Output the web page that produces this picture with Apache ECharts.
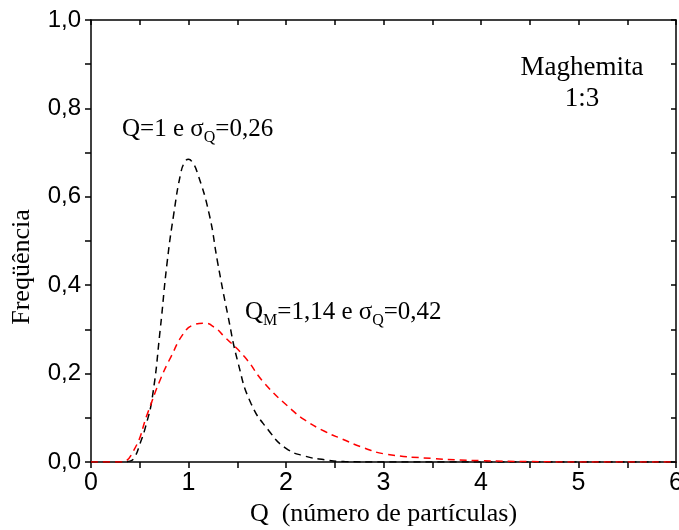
<!DOCTYPE html>
<html>
<head>
<meta charset="utf-8">
<script src="https://cdn.jsdelivr.net/npm/echarts@6/dist/echarts.min.js"></script>
<style>
  html, body {margin: 0; padding: 0; background: #fff;}
  #main {width: 679px; height: 530px;}
</style>
</head>
<body>
<div id="main"></div>
<script>
// curva preta: Q=1, sigma=0,26
var blackX = [0, 0.3, 0.4, 0.45, 0.5, 0.56, 0.63, 0.71, 0.78, 0.85, 0.92, 0.96, 1.0, 1.04, 1.09, 1.21, 1.30, 1.40, 1.51, 1.64, 1.82, 2.0, 2.2, 2.4, 2.6, 3.0, 6.0]
var blackY = [0, 0, 0.002, 0.012, 0.04, 0.08, 0.148, 0.30, 0.45, 0.563, 0.653, 0.678, 0.685, 0.678, 0.655, 0.563, 0.45, 0.336, 0.223, 0.133, 0.072, 0.031, 0.013, 0.005, 0.001, 0, 0]
// curva vermelha: QM=1,14, sigma=0,42
var redX = [0, 0.3, 0.44, 0.58, 0.71, 0.82, 0.95, 1.05, 1.16, 1.27, 1.37, 1.575, 1.78, 2.06, 2.2, 2.4, 2.575, 2.8, 3.02, 3.5, 4.0, 4.5, 5.0, 6.0]
var redY = [0, 0, 0.027, 0.11, 0.186, 0.238, 0.291, 0.31, 0.314, 0.304, 0.283, 0.238, 0.178, 0.118, 0.094, 0.069, 0.052, 0.032, 0.018, 0.008, 0.003, 0.001, 0, 0]

var xTicks = [0, 1, 2, 3, 4, 5, 6]
var yTicks = ['0,0', '0,2', '0,4', '0,6', '0,8', '1,0']

function pairs(xs, ys) {
    var out = []
    for (var i = 0; i < xs.length; i++) {
        out.push([xs[i], ys[i]])
    }
    return out
}

var serif = '"Liberation Serif", "Times New Roman", serif'
var sans = '"Liberation Sans", Arial, sans-serif'
var axisLine = {onZero: false, lineStyle: {color: '#000', width: 1.5}}
var tickStyle = {color: '#000', width: 1.5}

var myChart = echarts.init(document.getElementById('main'))

var option = {
    animation: false,
    grid: {left: 91, right: 3, top: 20, bottom: 68, containLabel: false, outerBoundsMode: 'none'},
    xAxis: [
        {
            type: 'value', min: 0, max: 6, interval: 1,
            axisLine: axisLine,
            axisTick: {show: true, inside: false, length: 6, lineStyle: tickStyle},
            minorTick: {show: true, splitNumber: 2, length: 6, lineStyle: tickStyle},
            splitLine: {show: false},
            axisLabel: {
                color: '#000', fontFamily: sans, fontSize: 25, margin: 9,
                formatter: function (v) { return xTicks.indexOf(v) >= 0 ? String(v) : '' }
            },
            name: 'Q  (número de partículas)',
            nameLocation: 'middle',
            nameGap: 39,
            nameTextStyle: {color: '#000', fontFamily: serif, fontSize: 26}
        },
        {
            type: 'value', min: 0, max: 6, interval: 1, position: 'top',
            axisLine: axisLine,
            axisTick: {show: true, inside: true, length: 5, lineStyle: tickStyle},
            minorTick: {show: true, splitNumber: 2, length: 5, lineStyle: tickStyle},
            splitLine: {show: false},
            axisLabel: {show: false}
        }
    ],
    yAxis: [
        {
            type: 'value', min: 0, max: 1, interval: 0.2,
            axisLine: axisLine,
            axisTick: {show: true, inside: false, length: 6, lineStyle: tickStyle},
            minorTick: {show: true, splitNumber: 2, length: 6, lineStyle: tickStyle},
            splitLine: {show: false},
            axisLabel: {
                color: '#000', fontFamily: sans, fontSize: 24, margin: 10,
                formatter: function (v) { return yTicks[Math.round(v * 5)] }
            },
            name: 'Freqüência',
            nameLocation: 'middle',
            nameGap: 56,
            nameRotate: 90,
            nameTextStyle: {color: '#000', fontFamily: serif, fontSize: 26, padding: [0, 52, 0, 0]}
        },
        {
            type: 'value', min: 0, max: 1, interval: 0.2, position: 'right',
            axisLine: axisLine,
            axisTick: {show: true, inside: true, length: 5, lineStyle: tickStyle},
            minorTick: {show: true, splitNumber: 2, length: 5, lineStyle: tickStyle},
            splitLine: {show: false},
            axisLabel: {show: false}
        }
    ],
    series: [
        {
            name: 'Q=1',
            type: 'line',
            data: pairs(blackX, blackY),
            smooth: 0.5,
            showSymbol: false,
            symbol: 'none',
            lineStyle: {color: '#000', width: 1.5, type: [7, 5]},
            z: 3
        },
        {
            name: 'QM=1,14',
            type: 'line',
            data: pairs(redX, redY),
            smooth: 0.5,
            showSymbol: false,
            symbol: 'none',
            lineStyle: {color: '#ff0000', width: 1.5, type: [7, 5]},
            z: 4
        }
    ],
    graphic: [
        {
            type: 'text', left: 122, top: 117,
            style: {
                text: '{t|Q=1 e σ}{s|Q}{t|=0,26}',
                rich: {
                    t: {fontFamily: serif, fontSize: 25, fill: '#000'},
                    s: {fontFamily: serif, fontSize: 16, fill: '#000', padding: [16, 0, 0, 0]}
                }
            }
        },
        {
            type: 'text', left: 245, top: 300,
            style: {
                text: '{t|Q}{s|M}{t|=1,14 e σ}{s|Q}{t|=0,42}',
                rich: {
                    t: {fontFamily: serif, fontSize: 25, fill: '#000'},
                    s: {fontFamily: serif, fontSize: 16, fill: '#000', padding: [16, 0, 0, 0]}
                }
            }
        },
        {
            type: 'text', x: 582, y: 52,
            style: {
                text: 'Maghemita\n1:3',
                align: 'center',
                fontFamily: serif, fontSize: 27, lineHeight: 31, fill: '#000'
            }
        }
    ]
}

myChart.setOption(option)
</script>
</body>
</html>
